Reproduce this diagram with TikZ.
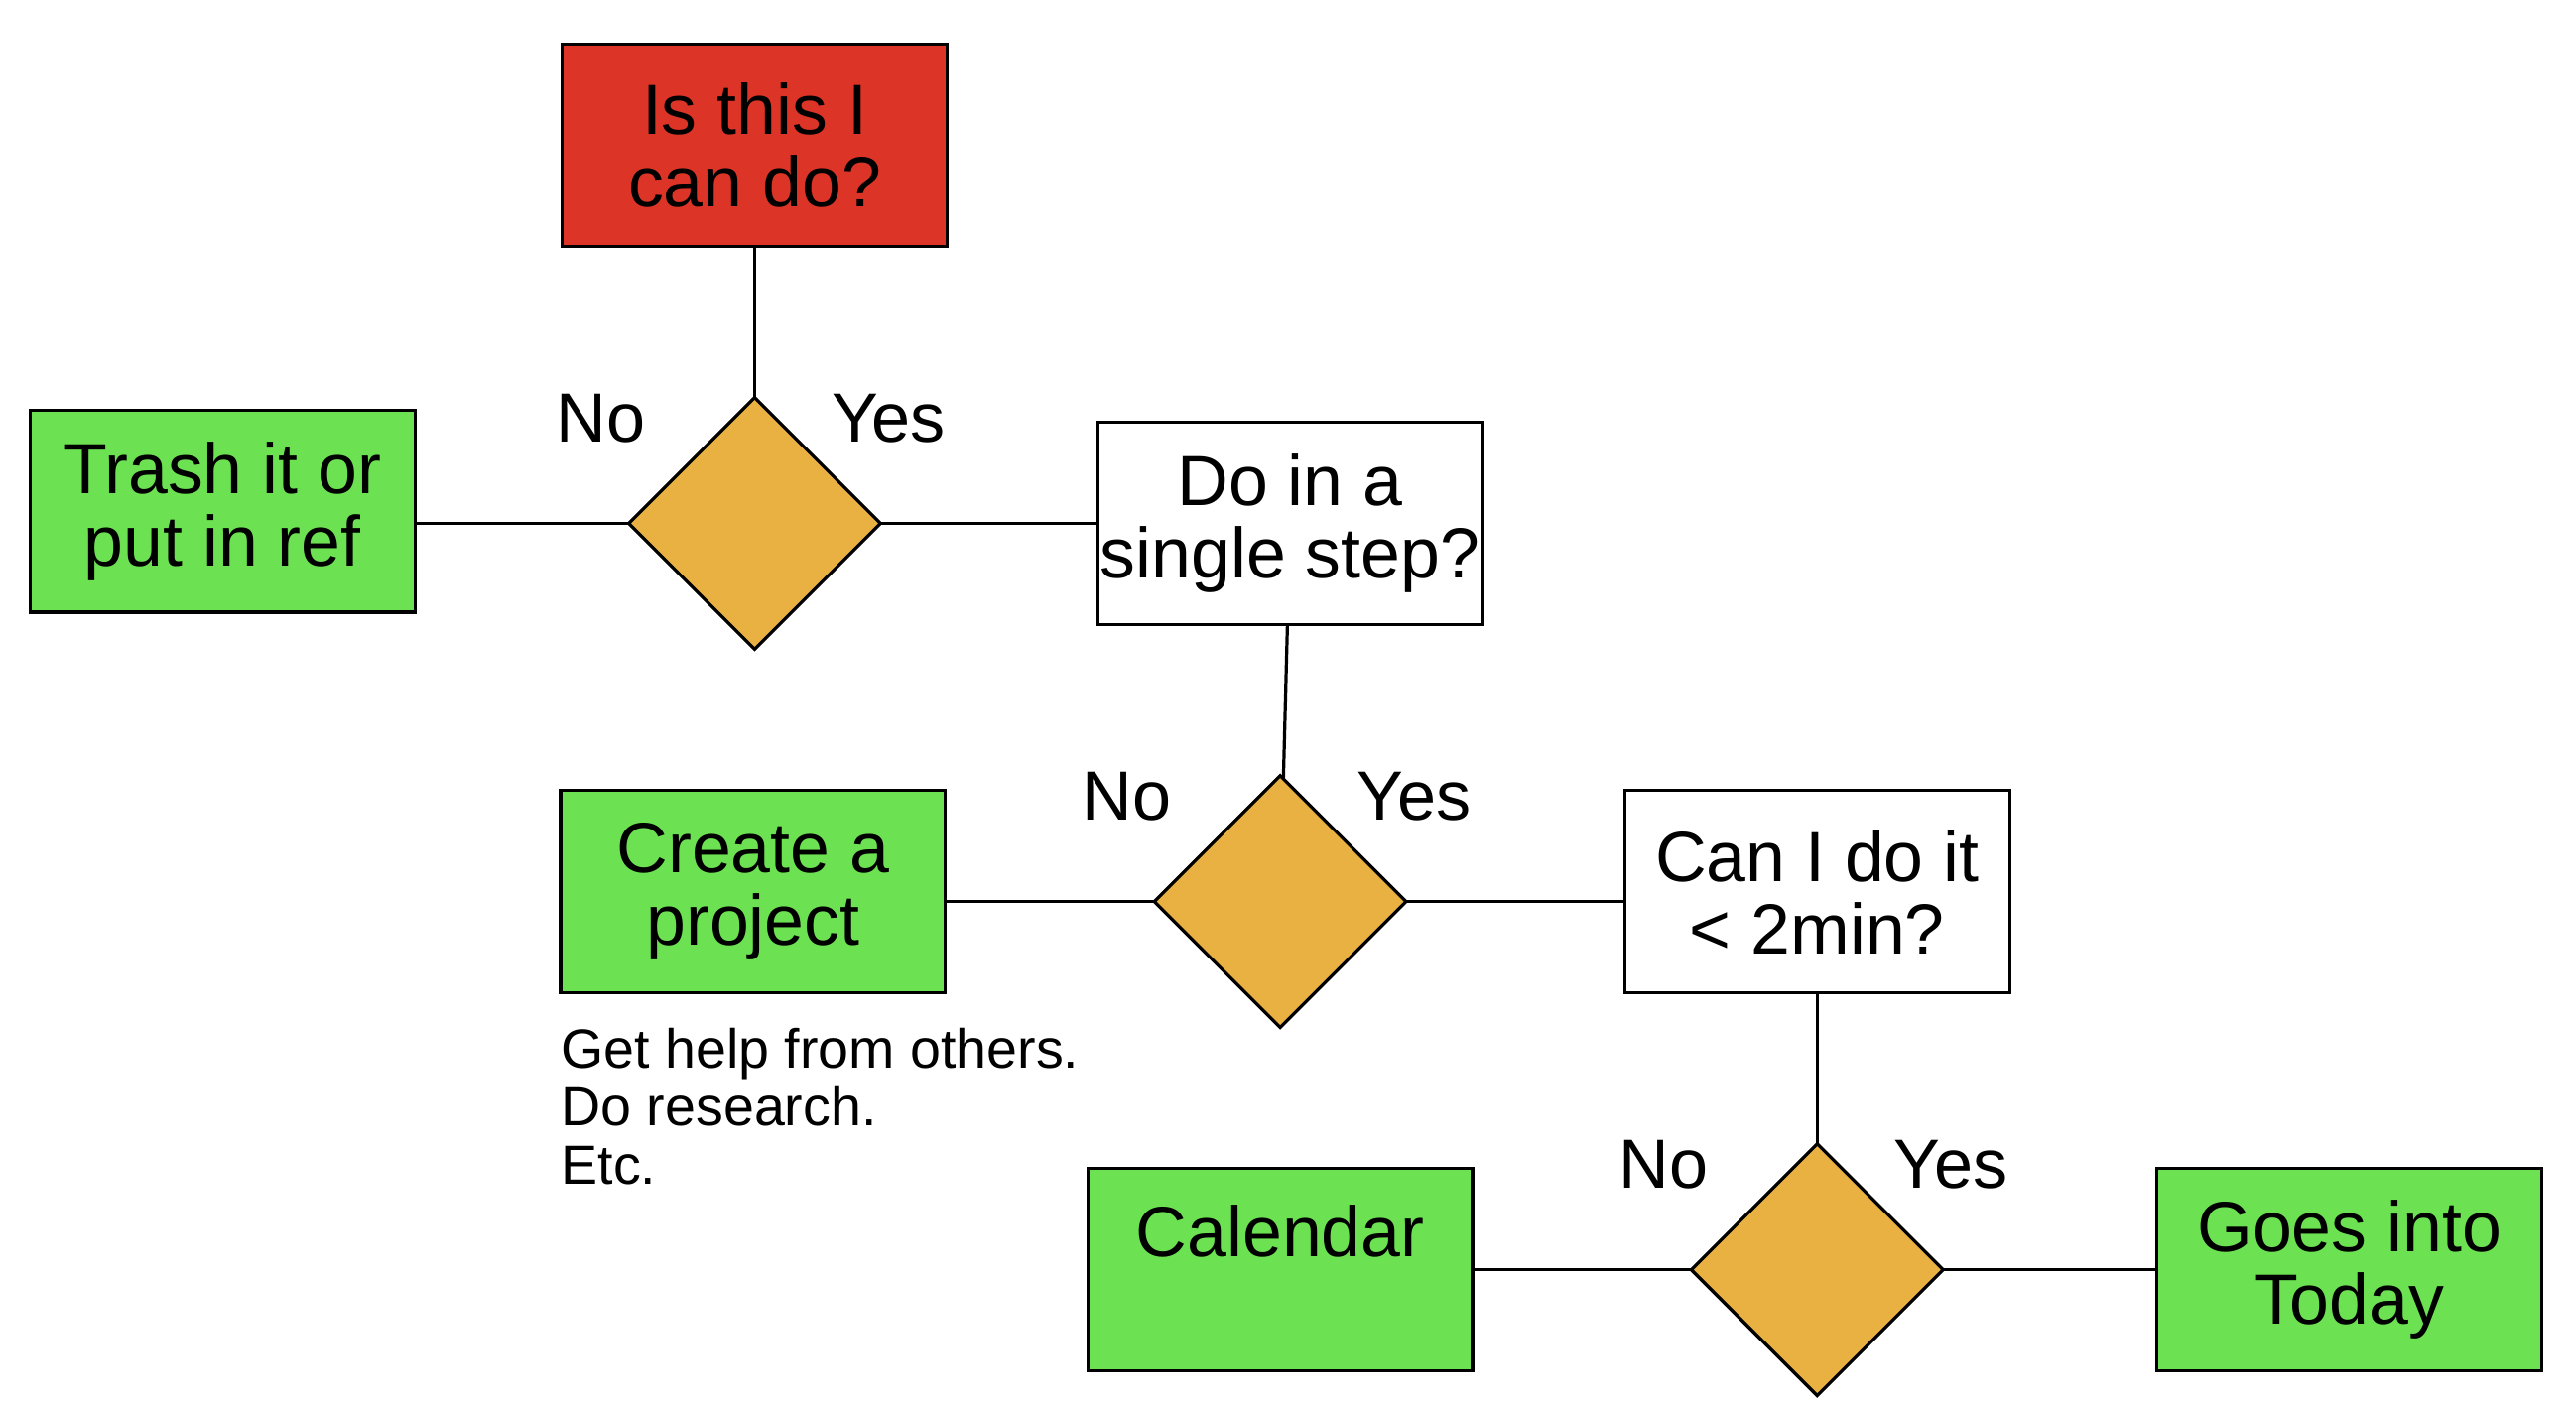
\documentclass[tikz,border=0pt]{standalone}
\usepackage{fontspec}
\setmainfont{Liberation Sans}
\usetikzlibrary{positioning,shapes.geometric}
\definecolor{askred}{RGB}{220,52,38}
\definecolor{donegreen}{RGB}{108,226,82}
\definecolor{choiceorange}{RGB}{232,177,66}
\begin{document}
\begin{tikzpicture}[node distance=1.83cm and 2.59cm, every node/.style={align=center}]
    \tikzset{
      flowbox/.style={
        draw,
        line width=1.1pt,
        minimum width=4.66cm,
        minimum height=2.45cm,
        inner sep=0pt,
        outer sep=0pt,
        font=\fontsize{24.5}{25}\selectfont
      },
      decide/.style={
        draw,
        diamond,
        fill=choiceorange,
        line width=1.1pt,
        minimum width=3.05cm,
        minimum height=3.05cm,
        inner sep=0pt,
        outer sep=0pt
      },
      lbl/.style={font=\fontsize{24}{25}\selectfont},
      notetext/.style={align=left, inner sep=0pt, font=\fontsize{19}{20}\selectfont},
      link/.style={line width=1.1pt}
    }
    \useasboundingbox (0,0) rectangle (31.2,-17.018);
    \node[flowbox, fill=askred] (cando) at (9.14,-1.76) {Is this I\\can do?};
    \node[decide, below=of cando] (d1) {};
    \node[flowbox, fill=donegreen, left=of d1, yshift=0.15cm] (trash) {Trash it or\\put in ref};
    \node[flowbox, right=of d1, xshift=0.04cm] (single) {Do in a\\single step?};
    \node[decide, below=of single, xshift=-0.12cm] (d2) {};
    \node[flowbox, fill=donegreen, left=of d2, xshift=0.06cm, yshift=0.12cm] (project) {Create a\\project};
    \node[flowbox, right=2.65cm of d2, yshift=0.12cm] (twomin) {Can I do it\\< 2min?};
    \node[decide, below=of twomin] (d3) {};
    \node[flowbox, fill=donegreen, left=of d3, xshift=-0.06cm] (calendar) {Calendar\\[-0.2cm]\strut};
    \node[flowbox, fill=donegreen, right=of d3] (today) {Goes into\\Today};
    \node[notetext, below right=0.42cm and 0cm of project.south west, anchor=north west] (help) {Get help from others.\\Do research.\\Etc.};
    \node[lbl] (no1) at ([shift={(-1.86,1.27)}]d1) {No};
    \node[lbl] (yes1) at ([shift={(1.62,1.27)}]d1) {Yes};
    \node[lbl] (no2) at ([shift={(-1.86,1.27)}]d2) {No};
    \node[lbl] (yes2) at ([shift={(1.62,1.27)}]d2) {Yes};
    \node[lbl] (no3) at ([shift={(-1.86,1.27)}]d3) {No};
    \node[lbl] (yes3) at ([shift={(1.62,1.27)}]d3) {Yes};
    \draw[link] (cando) -- (d1);
    \draw[link] (d1.west) -- (d1.west -| trash.east);
    \draw[link] (d1) -- (single);
    \draw[link] (single) -- (d2);
    \draw[link] (d2.west) -- (d2.west -| project.east);
    \draw[link] (d2.east) -- (d2.east -| twomin.west);
    \draw[link] (twomin) -- (d3);
    \draw[link] (d3) -- (calendar);
    \draw[link] (d3) -- (today);
  \end{tikzpicture}
\end{document}
